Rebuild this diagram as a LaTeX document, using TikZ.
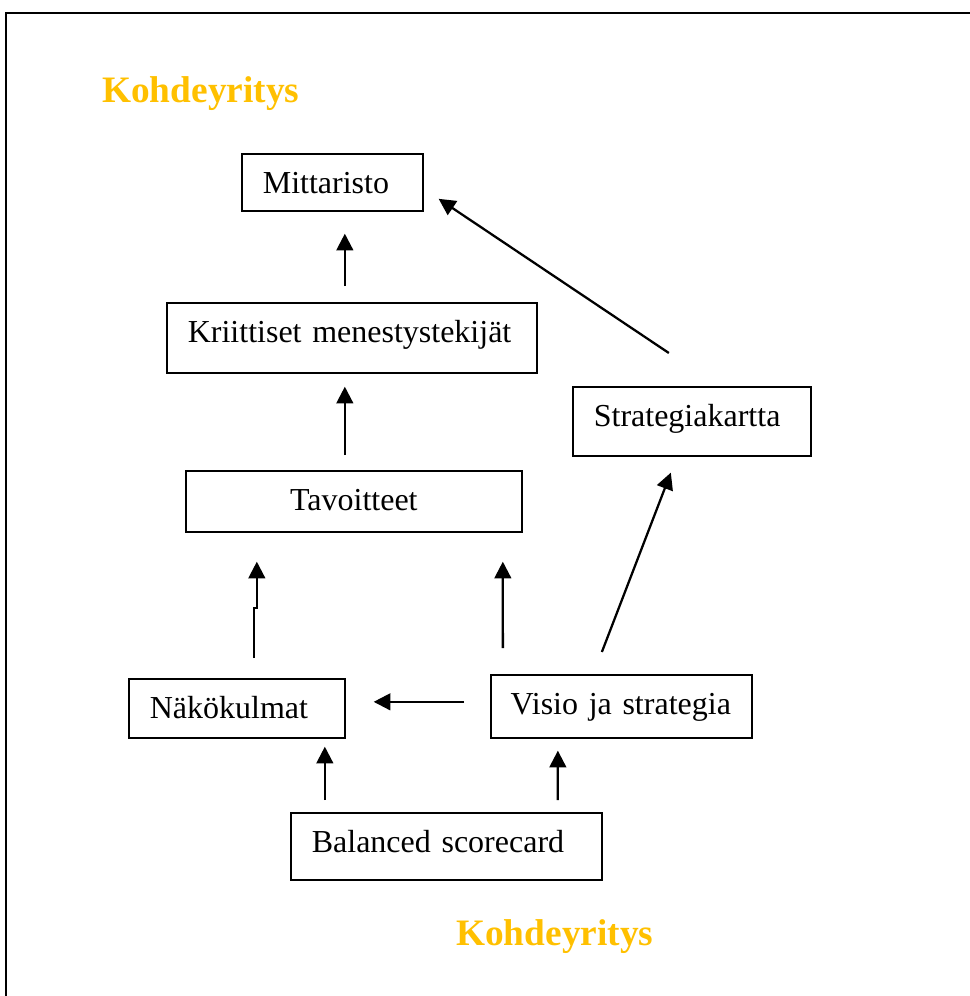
\documentclass[tikz,border=0pt]{standalone}
\usepackage{fontspec}
\setmainfont{Liberation Serif}
\usetikzlibrary{arrows.meta,calc}
\definecolor{gold}{HTML}{FFC000}
\begin{document}
\begin{tikzpicture}[x=0.75pt,y=-0.75pt,
  box/.style={draw, line width=1.25pt, rectangle, anchor=north west,
    inner xsep=15.75pt, inner ysep=0pt, text height=30pt,
    font=\fontsize{24}{28}\selectfont, align=left},
  arr/.style={line width=1.7pt, -{Triangle[length=12.5pt,width=12.5pt]}},
  heading/.style={anchor=base west, inner sep=0pt, text=gold,
    font=\fontsize{28}{32}\selectfont\bfseries}]
\useasboundingbox (0,0) rectangle (970,996);
\clip (0,0) rectangle (970,996);

% outer frame (runs off the right and bottom edges)
\draw[line width=1.8pt] (6,1010) -- (6,13) -- (990,13);

% headings
\node[heading] (h1) at (102,102) {Kohdeyritys};
\node[heading] (h2) at (456,945) {Kohdeyritys};

% boxes
\node[box, text width=104.25pt, text depth=12.75pt] (mit) at (241,153) {\mbox{Mittaristo}};
\node[box, text width=246pt, text depth=22.5pt] (kms) at (166,302) {\mbox{Kriittiset menestystekijät}};
\node[box, text width=147pt, text depth=21.75pt] (str) at (572,386) {\mbox{Strategiakartta}};
\node[box, text width=220.5pt, text depth=15.75pt, align=center] (tav) at (185,470) {\mbox{Tavoitteet}};
\node[box, text width=130.5pt, text depth=14.25pt] (nak) at (128,678) {\mbox{Näkökulmat}};
\node[box, text width=166pt, text depth=17.25pt, inner xsep=14.9pt] (vis) at (490,674) {\mbox{Visio ja strategia}};
\node[box, text width=201.75pt, text depth=20.25pt] (bsc) at (290,812) {\mbox{Balanced scorecard}};

% connectors
\draw[arr] ($(kms.north)+(-7,-16)$) -- ($(mit.south)+(12.5,22)$);
\draw[arr] ($(tav.north)+(-9,-15)$) -- ($(kms.south)+(-7,13)$);
\draw[arr] ($(nak.north)+(17,-20)$) -- ++(0,-50) -| ($(tav.south)+(-97,29)$);
\draw[arr] ($(vis.north)+(-118.5,-26)$) -- ($(tav.south)+(149,29)$);
\draw[arr] ($(vis.north)+(-19.5,-22)$) -- ($(str.south)+(-21,16)$);
\draw[arr] ($(str.north)+(-23,-33)$) -- ($(mit.east)+(15,16.5)$);
\draw[arr] ($(vis.west)+(-26,-4.5)$) -- ($(nak.east)+(28,-6.5)$);
\draw[arr] ($(bsc.north)+(-121.5,-12)$) -- ($(nak.south)+(88,8)$);
\draw[arr] ($(bsc.north)+(111.5,-12)$) -- ($(vis.south)+(-63.5,12)$);
\end{tikzpicture}
\end{document}
